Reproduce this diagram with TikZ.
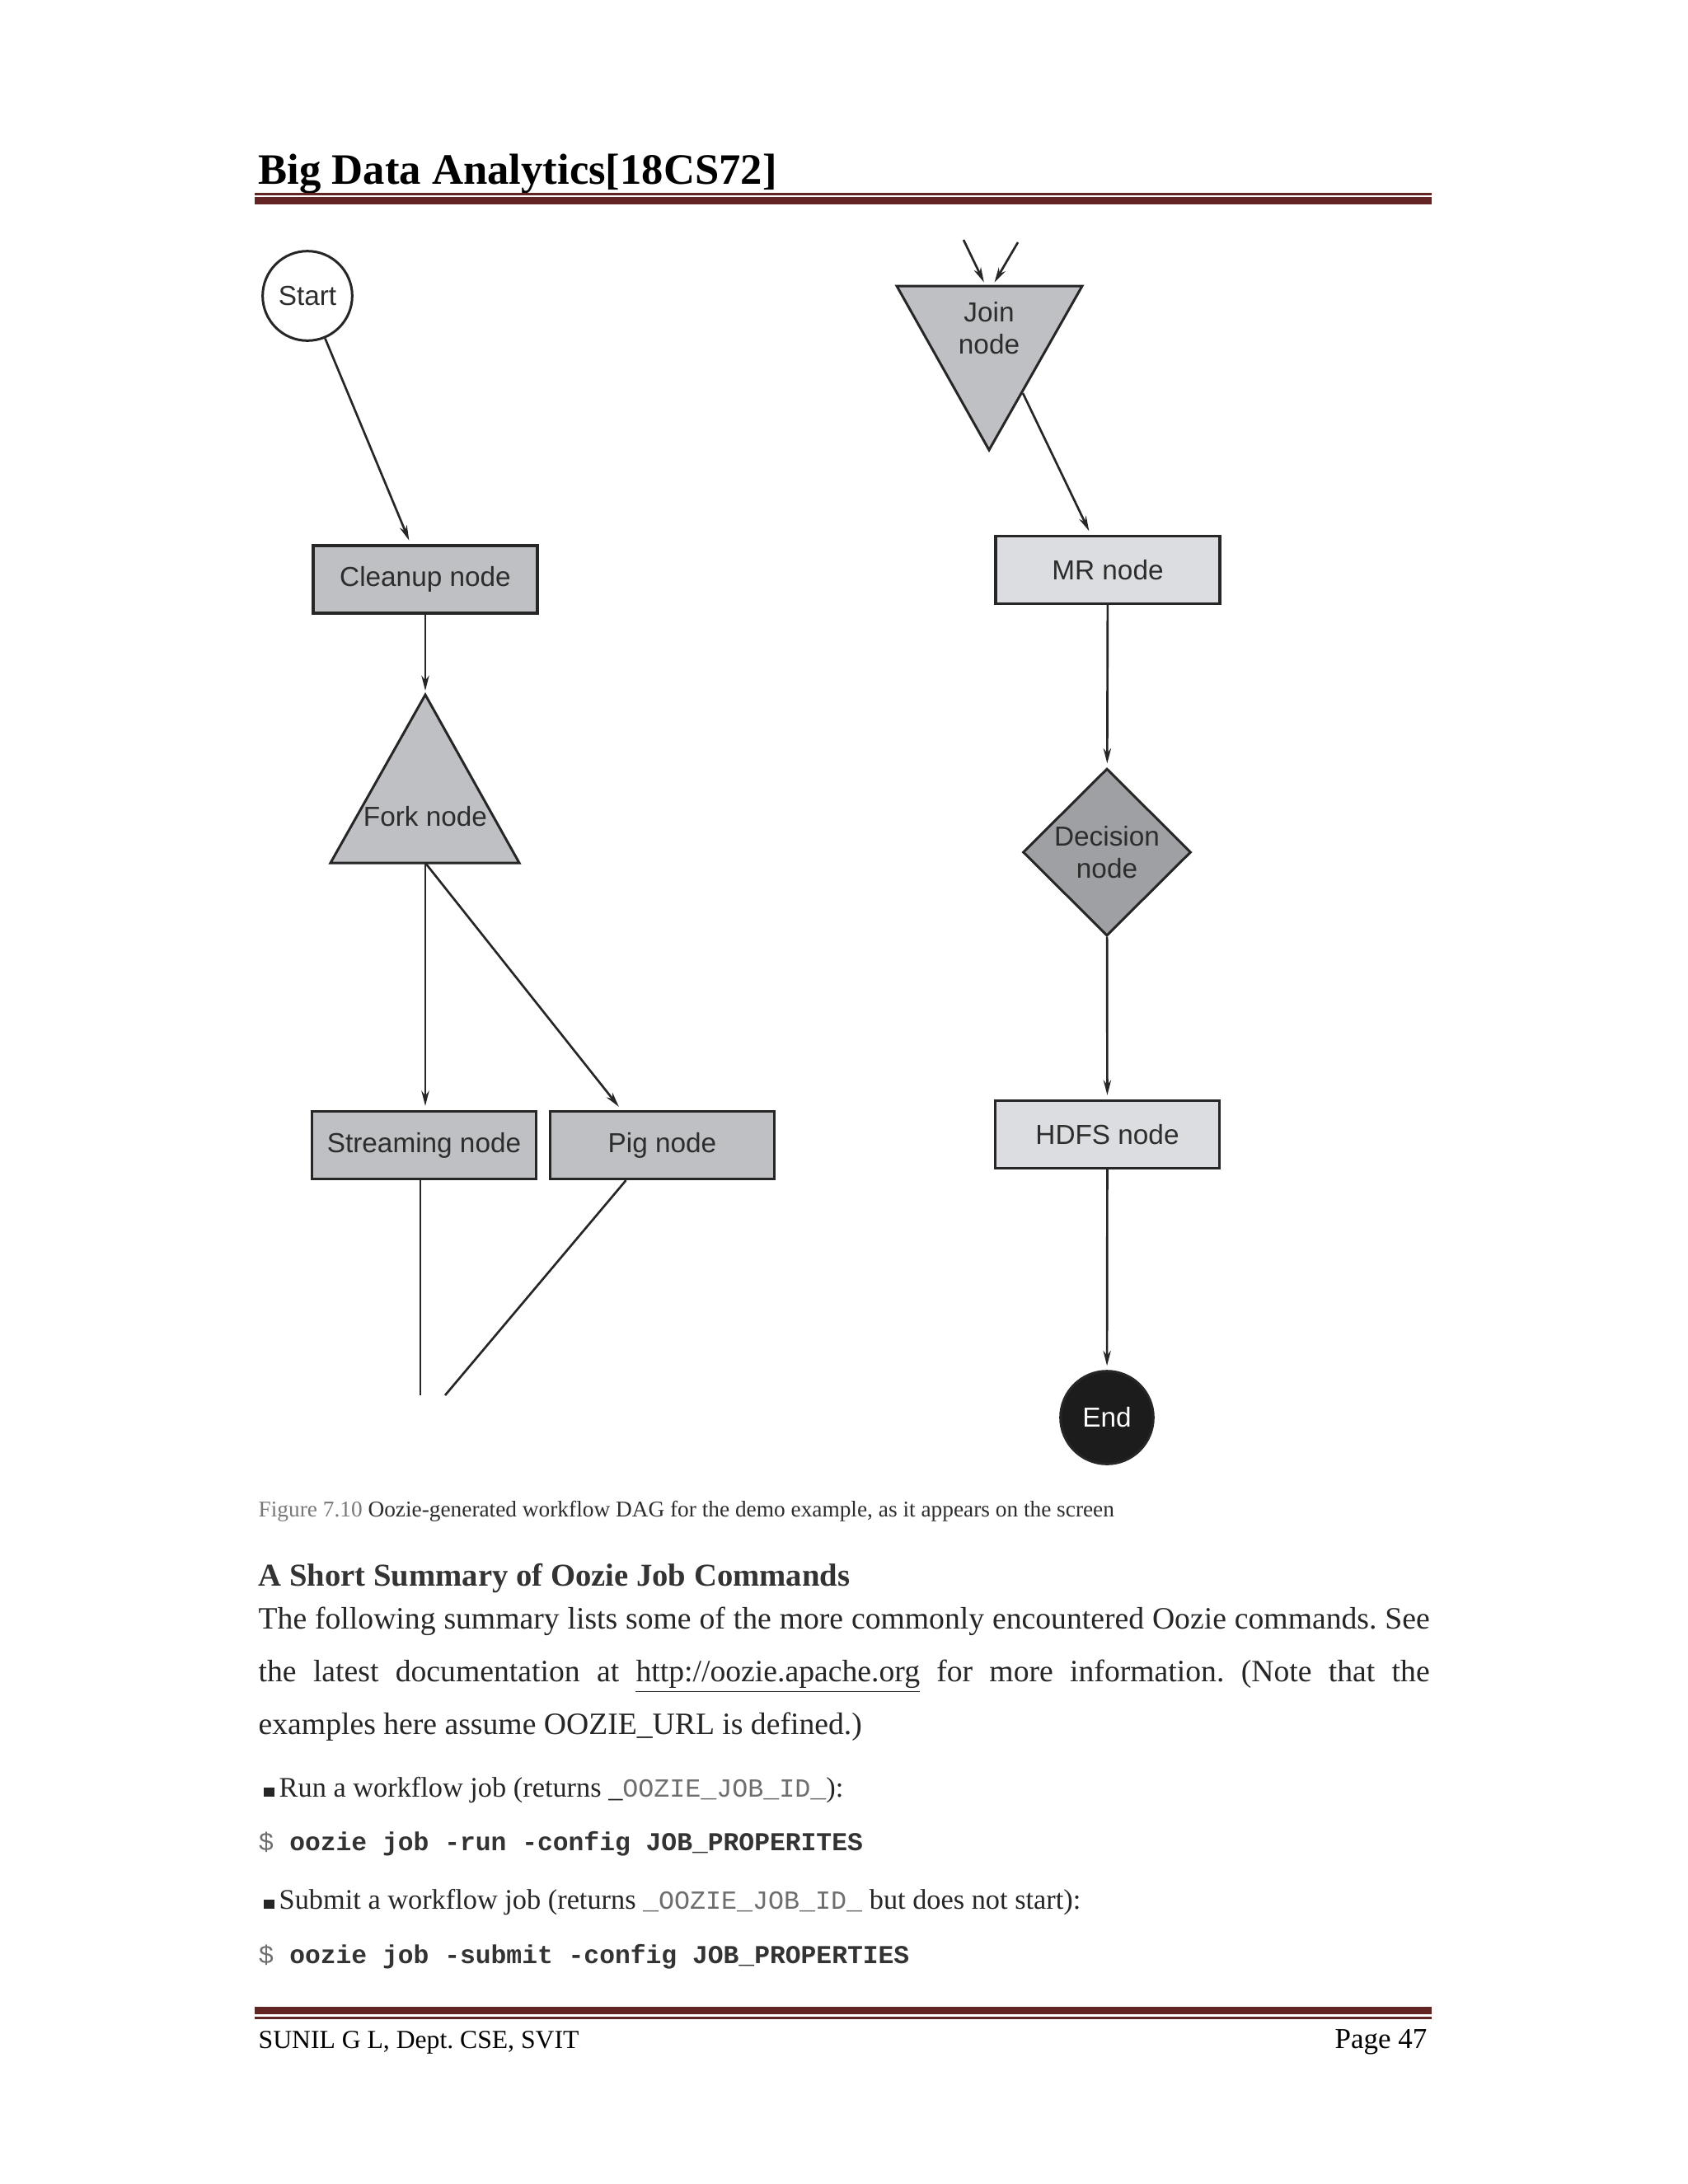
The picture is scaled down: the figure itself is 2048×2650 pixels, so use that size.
\documentclass[tikz,border=0pt]{standalone}
\usepackage{fontspec}
\setmainfont{Liberation Serif}
\setmonofont{Liberation Mono}
\newfontfamily\figfont{Liberation Sans}
\usetikzlibrary{arrows.meta,shapes.geometric,calc}
\frenchspacing

\definecolor{maroon}{RGB}{99,37,35}
\definecolor{boxgray}{RGB}{190,192,196}
\definecolor{boxlight}{RGB}{220,221,224}
\definecolor{diagray}{RGB}{158,160,164}
\definecolor{endblack}{RGB}{28,28,28}
\definecolor{inkgray}{RGB}{45,45,45}
\definecolor{capgray}{RGB}{120,120,120}
\definecolor{codegray}{RGB}{110,110,110}

\tikzset{
  flowtext/.style={font=\figfont\fontsize{10}{11.7}\selectfont, text=inkgray},
  flowbox/.style={flowtext, draw=black!85, line width=1pt, minimum width=81.6pt, minimum height=24.6pt, inner sep=0pt},
  darkbox/.style={flowbox, fill=boxgray},
  lightbox/.style={flowbox, fill=boxlight},
  flowshape/.style={draw=black!85, line width=0.9pt},
  flowline/.style={line width=0.8pt, draw=black!85},
  flowarrow/.style={flowline, -{Stealth[length=5.5pt,width=2.8pt]}, shorten >=1.5pt},
  pagetext/.style={inner sep=0pt, anchor=base west},
}

\begin{document}
\begin{tikzpicture}[x=0.3pt,y=0.3pt,yscale=-1]
\useasboundingbox (0,0) rectangle (2048,2650);
\fill[white] (0,0) rectangle (2048,2650);

% page header
\node[pagetext, font=\fontsize{15.8}{19}\selectfont\bfseries] (title) at (313,223) {Big Data Analytics[18CS72]};
\fill[maroon] (309,234) rectangle (1737,237);
\fill[maroon] (309,239) rectangle (1737,248);

% left branch
\node[circle, flowshape, fill=white, minimum size=32.6pt, inner sep=0pt, flowtext] (start) at (373,359) {Start};
\node[darkbox] (cleanup) at (516,703) {Cleanup node};
\filldraw[flowshape, fill=boxgray] (516,843) coordinate (fork top) -- (630,1047) -- (401,1047) -- cycle;
\coordinate (fork base) at (516,1047);
\node[flowtext, anchor=base, inner sep=0pt] (fork) at (516,1002) {Fork node};
\node[darkbox] (streaming) at (514.5,1389.5) {Streaming node};
\node[darkbox] (pig) at (803.5,1389.5) {Pig node};
\coordinate (stream end) at (510,1693);
\coordinate (pig end) at (540,1693);

\draw[flowarrow] (start) -- (cleanup);
\draw[flowarrow] (cleanup.south) -- (fork top);
\draw[flowarrow] (fork base) -- (fork base |- streaming.north);
\draw[flowarrow] (fork base) -- ($(pig.north west)!0.32!(pig.north east)$);
\draw[flowline] (streaming.south -| stream end) -- (stream end);
\draw[flowline] ($(pig.south west)!0.34!(pig.south east)$) -- (pig end);

% right branch
\coordinate (join in left) at (1169,291);
\coordinate (join in right) at (1235,294);
\filldraw[flowshape, fill=boxgray] (1088,347) -- (1313,347) -- (1200,546) -- cycle;
\coordinate (join top) at (1200,347);
\coordinate (join out) at (1241,477);
\node[flowtext, align=center, inner sep=0pt] (join) at (1200,398) {Join\\node};
\node[lightbox] (mr) at (1344,691.5) {MR node};
\node[diamond, flowshape, fill=diagray, aspect=1, minimum width=61.2pt, minimum height=60.9pt, inner sep=0pt, flowtext, align=center] (decision) at (1343,1034) {Decision\\node};
\node[lightbox] (hdfs) at (1343.5,1376.5) {HDFS node};
\node[circle, flowshape, fill=endblack, minimum size=33.8pt, inner sep=0pt, flowtext, text=white] (end) at (1343,1720) {End};

\draw[flowarrow] (join in left) -- ([xshift=-1.2pt]join top);
\draw[flowarrow] (join in right) -- ([xshift=1.2pt]join top);
\draw[flowarrow] (join out) -- (mr);
\draw[flowarrow] (mr) -- (decision);
\draw[flowarrow] (decision) -- (hdfs);
\draw[flowarrow] (hdfs) -- (end);

% caption and text
\node[pagetext, font=\fontsize{8.2}{10}\selectfont, text=inkgray] (caption) at (313,1840) {\textcolor{capgray}{Figure 7.10} Oozie-generated workflow DAG for the demo example, as it appears on the screen};
\node[pagetext, font=\fontsize{11.6}{14}\selectfont\bfseries, text=black!80] (heading) at (313,1924) {A Short Summary of Oozie Job Commands};
\node[pagetext, font=\fontsize{11.3}{14}\selectfont, text=black!85] (line one) at (313,1976) {\makebox[426.3pt][s]{The following summary lists some of the more commonly encountered Oozie commands. See}};
\node[pagetext, font=\fontsize{11.3}{14}\selectfont, text=black!85] (line two) at (313,2040) {\makebox[426.3pt][s]{the latest documentation at \underline{http://oozie.apache.org} for more information. (Note that the}};
\node[pagetext, font=\fontsize{11.3}{14}\selectfont, text=black!85] (line three) at (313,2104) {examples here assume OOZIE\_URL is defined.)};

\node[pagetext, font=\fontsize{10.3}{12}\selectfont, text=black!85] (run item) at (319,2180) {\rule{4pt}{3.4pt}\,Run a workflow job (returns \_{\ttfamily\fontsize{9.5}{11}\selectfont\textcolor{codegray}{OOZIE\_JOB\_ID\_}}):};
\node[pagetext, font=\ttfamily\fontsize{9.4}{11}\selectfont, text=black!80] (run cmd) at (313,2245) {\textcolor{codegray}{\$} \textbf{oozie job -run -config JOB\_PROPERITES}};
\node[pagetext, font=\fontsize{10.3}{12}\selectfont, text=black!85] (submit item) at (319,2316) {\rule{4pt}{3.4pt}\,Submit a workflow job (returns {\ttfamily\fontsize{9.5}{11}\selectfont\textcolor{codegray}{\_OOZIE\_JOB\_ID\_}} but does not start):};
\node[pagetext, font=\ttfamily\fontsize{9.4}{11}\selectfont, text=black!80] (submit cmd) at (313,2382) {\textcolor{codegray}{\$} \textbf{oozie job -submit -config JOB\_PROPERTIES}};

% page footer
\fill[maroon] (309,2435) rectangle (1737,2444);
\fill[maroon] (309,2447) rectangle (1737,2450);
\node[pagetext, font=\fontsize{9.5}{12}\selectfont] (author) at (313,2485) {SUNIL G L, Dept. CSE, SVIT};
\node[inner sep=0pt, anchor=base east, font=\fontsize{10.5}{12}\selectfont] (page) at (1732,2485) {Page 47};
\end{tikzpicture}
\end{document}
